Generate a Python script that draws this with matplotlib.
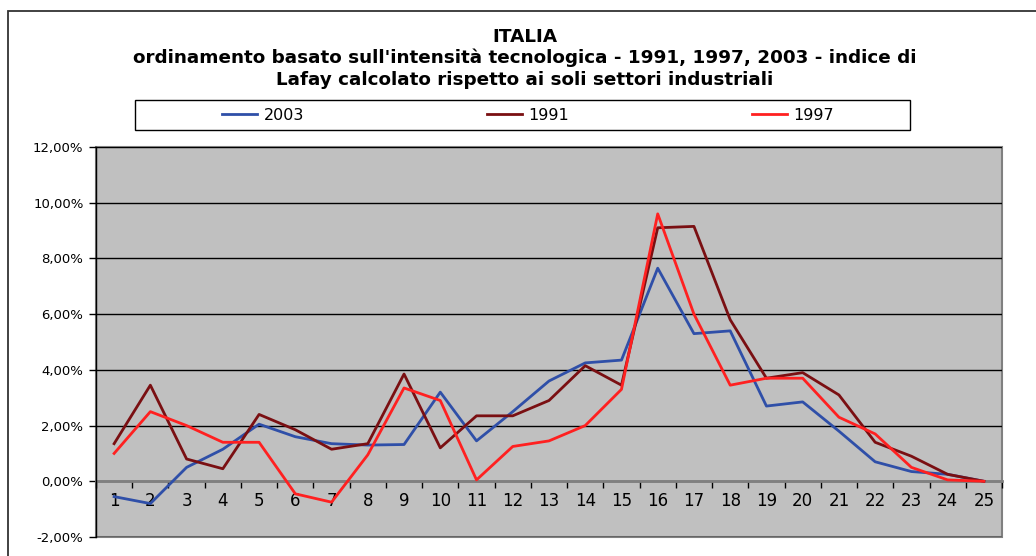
import matplotlib.pyplot as plt
from matplotlib.patches import Rectangle
from matplotlib.ticker import FuncFormatter, FixedLocator
import numpy as np

plt.rcParams['font.family'] = ['DejaVu Sans']

# settori ordinati per intensita' tecnologica (1..25)
sectors = [str(i) for i in range(1, 26)]

# indice di Lafay, in %
lafay_2003 = [-0.55, -0.8, 0.5, 1.15, 2.05, 1.6, 1.35, 1.3, 1.32, 3.2,
              1.45, 2.5, 3.6, 4.25, 4.35, 7.65, 5.3, 5.4, 2.7, 2.85,
              1.8, 0.7, 0.35, 0.25, 0.0]
lafay_1991 = [1.35, 3.45, 0.8, 0.45, 2.4, 1.85, 1.15, 1.35, 3.85, 1.2,
              2.35, 2.35, 2.9, 4.15, 3.45, 9.1, 9.15, 5.8, 3.7, 3.9,
              3.1, 1.4, 0.9, 0.25, 0.0]
lafay_1997 = [1.0, 2.5, 2.0, 1.4, 1.4, -0.45, -0.75, 0.95, 3.35, 2.9,
              0.05, 1.25, 1.45, 2.0, 3.3, 9.6, 6.0, 3.45, 3.7, 3.7,
              2.3, 1.7, 0.5, 0.05, 0.0]

title_lines = ["ITALIA",
               "ordinamento basato sull'intensità tecnologica - 1991, 1997, 2003 - indice di",
               "Lafay calcolato rispetto ai soli settori industriali"]

W, H = 1036, 556
fig = plt.figure(figsize=(W / 100, H / 100), dpi=100)
fig.patch.set_facecolor('white')

# cornice esterna del grafico
fig.add_artist(Rectangle((8 / W, -0.2), 1.2, 1.2 - 11 / H,
                         transform=fig.transFigure, fill=False,
                         edgecolor='#333333', linewidth=1.3))

ax = fig.add_axes([96 / W, (H - 537) / H, (1002 - 96) / W, (537 - 147) / H])
ax.set_facecolor('#c0c0c0')
ax.patch.set_edgecolor('#808080')
ax.patch.set_linewidth(1.5)

x = np.arange(len(sectors))
ax.plot(x, lafay_2003, color='#2f4fa8', lw=2, label='2003')
ax.plot(x, lafay_1991, color='#7a0f12', lw=2, label='1991')
ax.plot(x, lafay_1997, color='#ff2020', lw=2, label='1997')

ax.set_xlim(-0.5, len(sectors) - 0.5)
ax.set_ylim(-2, 12)
ax.set_yticks(np.arange(-2, 13, 2))
ax.yaxis.set_major_formatter(FuncFormatter(lambda v, p: f"{v:.2f}%".replace('.', ',')))
ax.grid(axis='y', color='black', lw=1)
ax.set_axisbelow(True)

for s in ['top', 'right']:
    ax.spines[s].set_visible(False)
ax.spines['left'].set_color('black')
ax.spines['left'].set_linewidth(1)
ax.spines['bottom'].set_position(('data', 0))
ax.spines['bottom'].set_color('#808080')
ax.spines['bottom'].set_linewidth(2)
ax.spines['bottom'].set_zorder(1.5)

ax.xaxis.set_major_locator(FixedLocator(np.arange(-0.5, len(sectors), 1)))
ax.xaxis.set_minor_locator(FixedLocator(x))
ax.xaxis.set_major_formatter(FuncFormatter(lambda v, p: ''))
ax.xaxis.set_minor_formatter(FuncFormatter(lambda v, p: sectors[int(round(v))]))
ax.tick_params(axis='x', which='major', length=5, color='black', width=1, direction='out')
ax.tick_params(axis='x', which='minor', length=0, labelsize=12, pad=8)
ax.tick_params(axis='y', length=5, color='black', width=1, labelsize=9.5, pad=4)

for line, ypix in zip(title_lines, [37, 58, 80]):
    fig.text(525 / W, 1 - ypix / H, line, ha='center', va='center',
             fontsize=13.2, fontweight='bold')

# legenda: riquadro a parte, voci centrate in tre colonne
fig.add_artist(Rectangle((135 / W, (H - 130) / H), (910 - 135) / W, 30 / H,
                         transform=fig.transFigure, fill=True, facecolor='white',
                         edgecolor='black', linewidth=1))
leg = fig.legend(loc='center', ncol=3, bbox_to_anchor=(528 / W, 1 - 115 / H),
                 frameon=False, fontsize=11.5, handlelength=2.2,
                 handletextpad=0.4, columnspacing=11.45, borderaxespad=0)

fig.savefig('out.png', dpi=100)
